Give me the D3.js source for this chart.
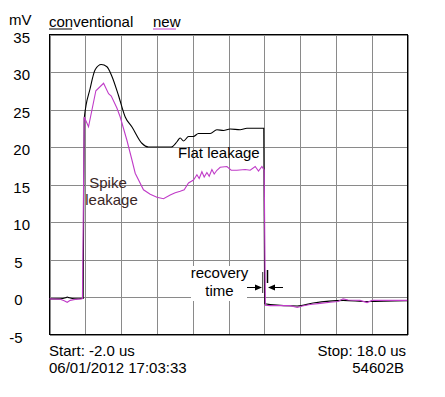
<!DOCTYPE html>
<html><head><meta charset="utf-8">
<script src="https://cdn.jsdelivr.net/npm/d3@7"></script>
<style>
html,body{margin:0;padding:0;background:#fff;}
text{font-family:"Liberation Sans",Arial,sans-serif;}
</style></head>
<body><svg id="c" width="445" height="397"></svg>
<script>
// Data (time in us, voltage in mV)
const timeTicks = [-2,0,2,4,6,8,10,12,14,16,18];
const mvTicks = [-5,0,5,10,15,20,25,30,35];
const seriesNames = ["conventional","new"];
const seriesColors = ["#000000","#c03cc8"];
const conventionalT = [-2.0,-1.4,-1.1,-1.01,-0.9,-0.6,-0.2,-0.12,-0.06,0.27,0.55,0.89,1.21,1.49,1.85,2.23,2.60,3.16,3.53,4.80,5.12,5.30,5.49,5.77,6.04,6.32,6.98,7.35,7.72,8.09,8.65,9.03,9.97,10.02,10.33,11.84,12.73,14.41,15.75,17.98];
const conventionalV = [-0.25,-0.25,-0.1,0.0,-0.1,-0.25,-0.2,-0.2,23.8,27.8,30.3,31.0,30.7,29.4,26.9,24.0,22.7,20.5,20.0,20.0,20.7,21.2,20.8,21.4,21.4,21.8,21.8,22.3,22.2,22.4,22.3,22.5,22.5,-0.9,-1.0,-1.2,-0.8,-0.45,-0.6,-0.5];
const newT = [-2.0,-1.4,-1.18,-1.01,-0.84,-0.51,-0.23,-0.16,-0.06,0.18,0.59,1.02,1.30,1.45,1.765,1.95,2.324,2.603,2.788,3.251,3.626,4.0,4.369,4.743,5.022,5.302,5.525,5.765,6.045,6.235,6.363,6.514,6.642,6.793,6.922,7.073,7.201,7.352,7.536,7.911,8.151,8.469,8.933,9.212,9.492,9.676,9.866,9.994,10.06,10.33,11.45,11.84,12.12,12.56,13.12,13.68,14.12,14.40,14.68,15.35,15.74,16.02,17.98];
const newV = [-0.25,-0.3,-0.5,-0.7,-0.45,-0.3,-0.25,-0.2,24.0,22.7,27.5,28.5,27.1,26.8,25.2,24.0,20.9,18.3,16.5,14.3,13.7,13.3,13.1,13.6,13.9,14.1,14.3,15.2,15.6,16.3,15.8,16.7,16.0,16.6,16.1,17.0,16.4,16.9,17.3,17.4,16.9,16.9,17.0,16.9,17.4,16.8,17.4,16.9,-1.1,-1.15,-1.15,-1.4,-1.2,-1.0,-0.85,-0.7,-0.6,-0.25,-0.4,-0.45,-0.75,-0.45,-0.45];
const startLabel = "Start: -2.0 us";
const dateLabel = "06/01/2012 17:03:33";
const stopLabel = "Stop: 18.0 us";
const modelLabel = "54602B";
const unitLabel = "mV";

const L=49.5, R=407.5, T=34.5, B=334.5;
const svg = d3.select("#c");
svg.append("rect").attr("width",445).attr("height",397).attr("fill","#fff");
const x = d3.scaleLinear().domain([-2,18]).range([L,R]);
const y = d3.scaleLinear().domain([-5,35]).range([B,T]);

// grid via axes
const gx = svg.append("g").attr("transform",`translate(0,${B})`)
  .call(d3.axisBottom(x).tickValues(timeTicks).tickSize(-(B-T)).tickFormat(""));
const gy = svg.append("g").attr("transform",`translate(${L},0)`)
  .call(d3.axisLeft(y).tickValues(mvTicks).tickSize(-(R-L)).tickFormat(""));
[gx,gy].forEach(g=>{
  g.select(".domain").remove();
  g.selectAll("line").attr("stroke","#8a8a8a").attr("stroke-width",1).attr("shape-rendering","crispEdges");
});
svg.append("rect").attr("x",L).attr("y",T).attr("width",R-L).attr("height",B-T)
  .attr("fill","none").attr("stroke","#000").attr("stroke-width",1).attr("shape-rendering","crispEdges");

// y labels
svg.selectAll("text.yl").data(mvTicks).enter().append("text")
  .attr("class","yl")
  .attr("x",d=>Math.abs(d)>=10?30:22.5)
  .attr("y",d=>y(d)+8)
  .attr("text-anchor","end").attr("font-size",15).attr("fill","#000")
  .text(d=>d);
svg.append("text").attr("x",9).attr("y",25).attr("font-size",15).text(unitLabel);

// legend
svg.append("text").attr("x",49).attr("y",27).attr("font-size",15).text(seriesNames[0]);
svg.append("line").attr("x1",49).attr("x2",72).attr("y1",29).attr("y2",29).attr("stroke",seriesColors[0]).attr("stroke-width",1);
svg.append("text").attr("x",153).attr("y",27).attr("font-size",15).text(seriesNames[1]);
svg.append("line").attr("x1",153).attr("x2",176).attr("y1",29).attr("y2",29).attr("stroke",seriesColors[1]).attr("stroke-width",1);

// recovery box
svg.append("rect").attr("x",191).attr("y",266).attr("width",56).attr("height",35).attr("fill","#fff");

// lines
const smoothLine = d3.line().curve(d3.curveMonotoneX).x(d=>x(d[0])).y(d=>y(d[1]));
const line = d3.line().x(d=>x(d[0])).y(d=>y(d[1]));
const convData = conventionalT.map((t,i)=>[t,conventionalV[i]]);
const newData = newT.map((t,i)=>[t,newV[i]]);
svg.append("path").datum(convData).attr("d",smoothLine).attr("fill","none").attr("stroke",seriesColors[0]).attr("stroke-width",1.1);
svg.append("path").datum(newData).attr("d",line).attr("fill","none").attr("stroke",seriesColors[1]).attr("stroke-width",1.1);

// annotations
svg.append("text").attr("x",178).attr("y",158).attr("font-size",15).text("Flat leakage");
svg.append("text").attr("x",108).attr("y",188).attr("font-size",15).attr("text-anchor","middle").attr("fill","#3a2626").text("Spike");
svg.append("text").attr("x",111.5).attr("y",205).attr("font-size",15).attr("text-anchor","middle").attr("fill","#3a2626").text("leakage");
svg.append("text").attr("x",219.5).attr("y",278).attr("font-size",15).attr("text-anchor","middle").text("recovery");
svg.append("text").attr("x",219.5).attr("y",296).attr("font-size",15).attr("text-anchor","middle").text("time");
// recovery arrows
const ay = 287.5;
svg.append("line").attr("x1",247).attr("x2",256).attr("y1",ay).attr("y2",ay).attr("stroke","#000");
svg.append("path").attr("d",`M262,${ay} L255,${ay-3} L255,${ay+3} Z`).attr("fill","#000");
svg.append("line").attr("x1",274).attr("x2",283).attr("y1",ay).attr("y2",ay).attr("stroke","#000");
svg.append("path").attr("d",`M268,${ay} L275,${ay-3} L275,${ay+3} Z`).attr("fill","#000");
svg.append("line").attr("x1",262.7).attr("x2",262.7).attr("y1",272).attr("y2",293).attr("stroke","#000").attr("stroke-width",0.8);
svg.append("line").attr("x1",267.5).attr("x2",267.5).attr("y1",270).attr("y2",283).attr("stroke","#000").attr("stroke-width",1.5);

// bottom labels
svg.append("text").attr("x",49).attr("y",356).attr("font-size",15).text(startLabel);
svg.append("text").attr("x",49).attr("y",373).attr("font-size",15).text(dateLabel);
svg.append("text").attr("x",406).attr("y",356).attr("font-size",15).attr("text-anchor","end").text(stopLabel);
svg.append("text").attr("x",404).attr("y",373).attr("font-size",15).attr("text-anchor","end").text(modelLabel);
</script></body></html>
